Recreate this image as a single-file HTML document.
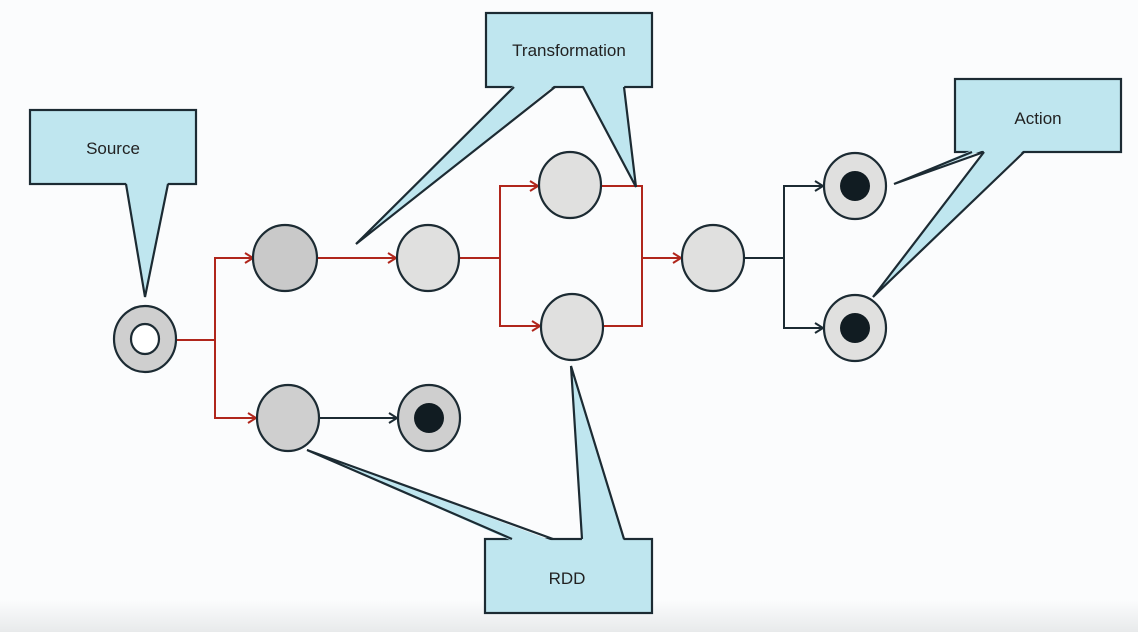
<!DOCTYPE html>
<html><head><style>
html,body{margin:0;padding:0;}
body{width:1138px;height:632px;overflow:hidden;background:linear-gradient(#fbfcfd 0,#fbfcfd 600px,#e8eaeb 632px);}
svg{display:block;}
text{font-family:"Liberation Sans",sans-serif;font-size:17px;fill:#222;}
</style></head><body>
<svg width="1138" height="632" viewBox="0 0 1138 632">
<defs>
<marker id="ar" markerWidth="12" markerHeight="12" refX="10" refY="6" orient="auto" markerUnits="userSpaceOnUse">
<path d="M2,1 L10,6 L2,11" fill="none" stroke="#b0261c" stroke-width="2"/></marker>
<marker id="ad" markerWidth="12" markerHeight="12" refX="10" refY="6" orient="auto" markerUnits="userSpaceOnUse">
<path d="M2,1 L10,6 L2,11" fill="none" stroke="#1c2b33" stroke-width="2"/></marker>
</defs>
<g fill="none" stroke="#b0261c" stroke-width="2">
<path d="M176,340 H215 V258 H253" marker-end="url(#ar)"/>
<path d="M215,340 V418 H256" marker-end="url(#ar)"/>
<path d="M317,258 H396" marker-end="url(#ar)"/>
<path d="M460,258 H500 V186 H538" marker-end="url(#ar)"/>
<path d="M500,258 V326 H540" marker-end="url(#ar)"/>
<path d="M601,186 H642 V326 H604"/>
<path d="M642,258 H681" marker-end="url(#ar)"/>
</g>
<g fill="none" stroke="#1c2b33" stroke-width="2">
<path d="M319,418 H397" marker-end="url(#ad)"/>
<path d="M744,258 H784 V186 H823" marker-end="url(#ad)"/>
<path d="M784,258 V328 H823" marker-end="url(#ad)"/>
</g>
<g stroke="#1c2b33" stroke-width="2.2">
<ellipse cx="145" cy="339" rx="31" ry="33" fill="#cfcfcf"/>
<ellipse cx="145" cy="339" rx="14" ry="15" fill="#fff"/>
<ellipse cx="285" cy="258" rx="32" ry="33" fill="#c9c9c9"/>
<ellipse cx="428" cy="258" rx="31" ry="33" fill="#e0e0df"/>
<ellipse cx="570" cy="185" rx="31" ry="33" fill="#e0e0df"/>
<ellipse cx="572" cy="327" rx="31" ry="33" fill="#e0e0df"/>
<ellipse cx="713" cy="258" rx="31" ry="33" fill="#e0e0df"/>
<ellipse cx="855" cy="186" rx="31" ry="33" fill="#e0e0df"/>
<ellipse cx="855" cy="328" rx="31" ry="33" fill="#e0e0df"/>
<ellipse cx="288" cy="418" rx="31" ry="33" fill="#cfcfcf"/>
<ellipse cx="429" cy="418" rx="31" ry="33" fill="#cfcfcf"/>
</g>
<g fill="#111c22">
<ellipse cx="855" cy="186" rx="15" ry="15"/>
<ellipse cx="855" cy="328" rx="15" ry="15"/>
<ellipse cx="429" cy="418" rx="15" ry="15"/>
</g>
<g fill="#bfe6ef" stroke="#1c2b33" stroke-width="2.2">
<rect x="30" y="110" width="166" height="74"/>
<rect x="486" y="13" width="166" height="74"/>
<rect x="955" y="79" width="166" height="73"/>
<rect x="485" y="539" width="167" height="74"/>
</g>
<!-- tails: fill then sides -->
<g fill="#bfe6ef" stroke="none">
<polygon points="126,182 168,182 145,297"/>
<polygon points="514,85 555,85 356,244"/>
<polygon points="583,85 624,85 636,187"/>
<polygon points="972,150 984,150 894,184"/>
<polygon points="984,150 1024,150 873,297"/>
<polygon points="512,541 553,541 307,450"/>
<polygon points="582,541 624,541 571,366"/>
</g>
<g fill="none" stroke="#1c2b33" stroke-width="2.2">
<polyline points="126,184 145,297 168,184"/>
<polyline points="514,87 356,244 555,87"/>
<polyline points="583,87 636,187 624,87"/>
<polyline points="972,152 894,184 984,152"/>
<polyline points="984,152 873,297 1024,152"/>
<polyline points="512,539 307,450 553,539"/>
<polyline points="582,539 571,366 624,539"/>
</g>
<text x="113" y="154" text-anchor="middle">Source</text>
<text x="569" y="56" text-anchor="middle">Transformation</text>
<text x="1038" y="124" text-anchor="middle">Action</text>
<text x="567" y="584" text-anchor="middle">RDD</text>
</svg>
</body></html>
